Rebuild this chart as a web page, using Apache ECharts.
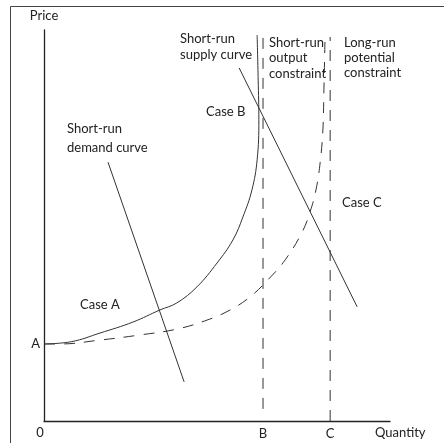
<!DOCTYPE html>
<html>
<head>
<meta charset="utf-8">
<script src="https://cdn.jsdelivr.net/npm/echarts@6/dist/echarts.min.js"></script>
<style>html,body{margin:0;padding:0;background:#fff}#c{width:444px;height:443px}</style>
</head>
<body>
<div id="c"></div>
<script>
// ---- data (quantity, price) in chart units ----
const shortRunSupply = [[0,19.7],[8,20.3],[16.2,22.5],[25.7,25.3],[33.5,28.4],[38.4,30.2],[44.2,34.3],[50.0,40.4],[54.6,46.3],[57.5,52.2],[60.1,59.1],[61.6,66.8],[62.1,77.0],[61.9,87.2],[61.6,98.7]];
const longRunSupply = [[0,19.7],[4.6,19.7],[16.2,20.7],[27.7,22.0],[38.4,23.5],[47.1,25.8],[53.8,28.4],[59.5,31.7],[64.7,36.1],[69.7,41.2],[74.6,48.3],[76.9,53.5],[78.6,59.1],[79.8,66.0],[80.6,74.4],[80.9,84.7],[81.2,97.4]];
const demandLow = [[18.5,66.2],[40.5,10.0]];
const demandHigh = [[56.4,90.3],[90.5,29.2]];
const outputConstraintB = [[63.3,3.1],[63.3,98.7]];
const potentialConstraintC = [[82.7,0],[82.7,98.2]];
const xTickValues = [63.3, 82.7];
const xTickLabels = ['B','C'];
const yTickValues = [19.7];
const yTickLabels = ['A'];

const FONT = 'Lato';
const FS = 13;
const TXT = '#222';
const LINE = '#333';
const chart = echarts.init(document.getElementById('c'), null, {renderer:'canvas'});

function txt(text, x, y, opts) {
  return Object.assign({type:'text', x:x, y:y, silent:true,
    style:Object.assign({text:text, fill:TXT, font:FS + 'px ' + FONT, verticalAlign:'middle', align:'left'}, opts||{})});
}
const solid = {color:LINE, width:1};
const dashed = {color:LINE, width:1, type:[11,9]};
function lineSeries(data, style, smooth) {
  return {type:'line', data:data, showSymbol:false, symbol:'none', smooth:smooth||false,
    lineStyle:style, silent:true, animation:false, z:3};
}

chart.setOption({
  animation:false,
  backgroundColor:'#fff',
  grid:{left:44, top:30, width:346, height:391},
  xAxis:{type:'value', min:0, max:100,
    axisLine:{show:true, onZero:false, lineStyle:{color:'#222', width:1.3}},
    axisTick:{show:false}, splitLine:{show:false},
    axisLabel:{customValues:xTickValues, color:TXT, fontFamily:FONT, fontSize:FS, margin:6,
      formatter:function(v){const i=xTickValues.indexOf(v);return i>=0?xTickLabels[i]:'';}}},
  yAxis:{type:'value', min:0, max:100,
    name:'Price', nameLocation:'end', nameGap:8,
    nameTextStyle:{color:TXT, fontFamily:FONT, fontSize:FS, align:'center'},
    axisLine:{show:true, onZero:false, lineStyle:{color:'#222', width:1.3}},
    axisTick:{show:false}, splitLine:{show:false},
    axisLabel:{customValues:yTickValues, color:TXT, fontFamily:FONT, fontSize:FS, margin:4,
      formatter:function(v){const i=yTickValues.indexOf(v);return i>=0?yTickLabels[i]:'';}}},
  series:[
    lineSeries(shortRunSupply, solid, 0.4),
    lineSeries(longRunSupply, dashed, 0.4),
    lineSeries(demandLow, solid),
    lineSeries(demandHigh, solid),
    lineSeries(outputConstraintB, dashed),
    lineSeries(potentialConstraintC, dashed)
  ],
  graphic:[
    {type:'polyline', silent:true, shape:{points:[[10.5,450],[10.5,6.5],[450,6.5]]}, style:{stroke:'#444', lineWidth:1, fill:null}},
    txt('0', 40, 433, {align:'center'}),
    txt('Quantity', 375, 433),
    txt('Short-run\ndemand curve', 67, 119.5, {verticalAlign:'top', lineHeight:19}),
    txt('Short-run\nsupply curve', 180, 31, {verticalAlign:'top', lineHeight:16}),
    txt('Short-run\noutput\nconstraint', 269, 35, {verticalAlign:'top', lineHeight:15.5}),
    txt('Long-run\npotential\nconstraint', 344, 35.5, {verticalAlign:'top', lineHeight:15}),
    txt('Case B', 206, 112),
    txt('Case A', 80, 305),
    txt('Case C', 342, 203)
  ]
});
</script>
</body>
</html>
